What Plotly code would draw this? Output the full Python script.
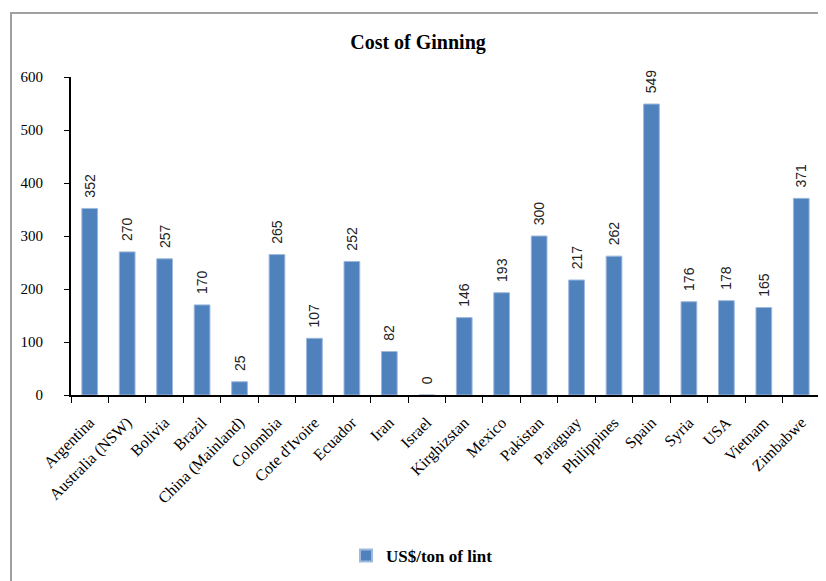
import plotly.graph_objects as go

countries = ["Argentina", "Australia (NSW)", "Bolivia", "Brazil", "China (Mainland)",
             "Colombia", "Cote d'Ivoire", "Ecuador", "Iran", "Israel", "Kirghizstan",
             "Mexico", "Pakistan", "Paraguay", "Philippines", "Spain", "Syria", "USA",
             "Vietnam", "Zimbabwe"]
cost = [352, 270, 257, 170, 25, 265, 107, 252, 82, 0, 146, 193, 300, 217, 262, 549,
        176, 178, 165, 371]
series_name = "US$/ton of lint"
y_ticks = [0, 100, 200, 300, 400, 500, 600]

OFF = 8  # default body margin of the html page
W, H = 826 - OFF, 581 - OFF
# plot area in screen pixels: x 71..820, y 77..395
L, T = 71 - OFF, 77 - OFF
R = W - (820 - OFF)
B = H - (395 - OFF)
pw, ph = W - L - R, H - T - B

def px_x(x):
    return (x - OFF - L) / pw

def px_y(y):
    return (H - B - (y - OFF)) / ph

serif = "Liberation Serif, Times New Roman, serif"

fig = go.Figure(go.Bar(
    x=countries, y=cost, name="<b>" + series_name + "</b>",
    marker=dict(color="#4F81BD", line=dict(color="#9DB9DC", width=1)),
    width=0.42,
    texttemplate="\u00a0\u00a0%{y}", textposition="outside", textangle=-90,
    constraintext="none",
    textfont=dict(family="Liberation Sans, Arial, sans-serif", size=14, color="#222"),
    cliponaxis=False, showlegend=True,
))

fig.update_layout(
    width=W, height=H,
    margin=dict(l=L, r=R, t=T, b=B, autoexpand=False),
    plot_bgcolor="white", paper_bgcolor="white",
    title=dict(text="<b>Cost of Ginning</b>", x=(418 - OFF) / W, xanchor="center",
               y=1 - (42 - OFF) / H, yanchor="middle",
               font=dict(family=serif, size=20, color="black")),
    font=dict(family=serif, size=15, color="black"),
    xaxis=dict(type="category", tickangle=-45, showline=True, linecolor="black",
               linewidth=2, ticks="outside", tickson="boundaries", ticklen=6,
               tickcolor="black", tickwidth=1, showgrid=False, automargin=False,
               ticklabelstandoff=10,
               tickfont=dict(family=serif, size=16, color="black")),
    yaxis=dict(range=[0, 600], tickvals=y_ticks, showline=True, linecolor="black",
               linewidth=2, ticks="outside", ticklen=5, tickcolor="black",
               showgrid=False, zeroline=False, automargin=False,
               ticklabelstandoff=18,
               tickfont=dict(family=serif, size=15, color="black")),
    legend=dict(orientation="h", x=(422 - OFF) / W, xref="container", xanchor="center",
                y=1 - (556 - OFF) / H, yref="container",
                yanchor="middle", font=dict(family=serif, size=17, color="black"),
                itemsizing="constant", itemwidth=30),
    shapes=[dict(type="rect", xref="paper", yref="paper",
                 x0=px_x(11), x1=px_x(832), y0=px_y(590), y1=px_y(13),
                 line=dict(color="#A0A0A0", width=2), layer="below")],
)

fig.write_html("out.html")
